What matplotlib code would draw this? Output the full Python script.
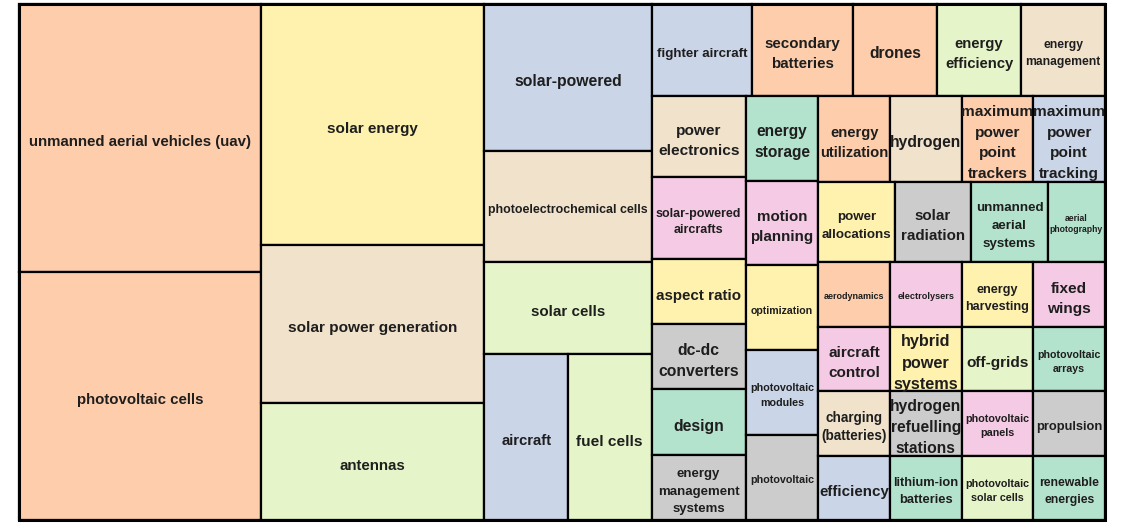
import matplotlib
matplotlib.use('Agg')
import matplotlib.pyplot as plt
from matplotlib.patches import Rectangle
from matplotlib.textpath import TextPath
from matplotlib.font_manager import FontProperties

# ---------------- data ----------------
keywords = [
    'unmanned aerial vehicles (uav)', 'photovoltaic cells', 'solar energy',
    'solar power generation', 'antennas', 'solar-powered',
    'photoelectrochemical cells', 'solar cells', 'aircraft', 'fuel cells',
    'fighter aircraft', 'secondary batteries', 'drones', 'energy efficiency',
    'energy management', 'power electronics', 'solar-powered aircrafts',
    'aspect ratio', 'dc-dc converters', 'design', 'energy management systems',
    'energy storage', 'motion planning', 'optimization', 'photovoltaic modules',
    'photovoltaic', 'energy utilization', 'hydrogen',
    'maximum power point trackers', 'maximum power point tracking',
    'power allocations', 'solar radiation', 'unmanned aerial systems',
    'aerial photography', 'aerodynamics', 'aircraft control',
    'charging (batteries)', 'efficiency', 'electrolysers',
    'hybrid power systems', 'hydrogen refuelling stations',
    'lithium-ion batteries', 'energy harvesting', 'off-grids',
    'photovoltaic panels', 'photovoltaic solar cells', 'fixed wings',
    'photovoltaic arrays', 'propulsion', 'renewable energies',
]
counts = [
    42, 39, 35,
    23, 17, 16,
    12, 10, 9, 9,
    6, 6, 5, 5,
    5, 5, 5,
    4, 4, 4, 4,
    4, 4, 4, 4,
    4, 4, 4,
    4, 4,
    4, 4, 4,
    3, 3, 3,
    3, 3, 3,
    3, 3,
    3, 3, 3,
    3, 3, 3,
    3, 3, 3,
]
# colour group index into the Pastel2 palette
# 0 mint, 1 peach, 2 blue, 3 pink, 4 light green, 5 yellow, 6 beige, 7 grey
colour_group = [
    1, 1, 5,
    6, 4, 2,
    6, 4, 2, 4,
    2, 1, 1, 4,
    6, 6, 3,
    5, 7, 0, 7,
    0, 3, 5, 2,
    7, 1, 6,
    1, 2,
    5, 7, 0,
    0, 1, 3,
    6, 2, 3,
    5, 7,
    0, 5, 4,
    3, 4, 3,
    0, 7, 0,
]

# ---------------- layout (nesting of slices) ----------------
tree = ('h', [
    ('v', ['unmanned aerial vehicles (uav)', 'photovoltaic cells']),
    ('v', ['solar energy', 'solar power generation', 'antennas']),
    ('v', ['solar-powered', 'photoelectrochemical cells', 'solar cells',
           ('h', ['aircraft', 'fuel cells'])]),
    ('v', [
        ('h', ['fighter aircraft', 'secondary batteries', 'drones',
               'energy efficiency', 'energy management']),
        ('h', [
            ('v', ['power electronics', 'solar-powered aircrafts', 'aspect ratio',
                   'dc-dc converters', 'design', 'energy management systems']),
            ('v', ['energy storage', 'motion planning', 'optimization',
                   'photovoltaic modules', 'photovoltaic']),
            ('v', [
                ('h', ['energy utilization', 'hydrogen',
                       'maximum power point trackers', 'maximum power point tracking']),
                ('h', ['power allocations', 'solar radiation',
                       'unmanned aerial systems', 'aerial photography']),
                ('h', [
                    ('v', ['aerodynamics', 'aircraft control',
                           'charging (batteries)', 'efficiency']),
                    ('v', ['electrolysers', 'hybrid power systems',
                           'hydrogen refuelling stations', 'lithium-ion batteries']),
                    ('v', ['energy harvesting', 'off-grids',
                           'photovoltaic panels', 'photovoltaic solar cells']),
                    ('v', ['fixed wings', 'photovoltaic arrays',
                           'propulsion', 'renewable energies']),
                ]),
            ]),
        ]),
    ]),
])

# display line breaks
display = {
    'secondary batteries': 'secondary\nbatteries',
    'energy efficiency': 'energy\nefficiency',
    'energy management': 'energy\nmanagement',
    'power electronics': 'power\nelectronics',
    'energy storage': 'energy\nstorage',
    'energy utilization': 'energy\nutilization',
    'maximum power point trackers': 'maximum\npower\npoint\ntrackers',
    'maximum power point tracking': 'maximum\npower\npoint\ntracking',
    'solar-powered aircrafts': 'solar-powered\naircrafts',
    'motion planning': 'motion\nplanning',
    'power allocations': 'power\nallocations',
    'solar radiation': 'solar\nradiation',
    'unmanned aerial systems': 'unmanned\naerial\nsystems',
    'aerial photography': 'aerial\nphotography',
    'energy harvesting': 'energy\nharvesting',
    'fixed wings': 'fixed\nwings',
    'dc-dc converters': 'dc-dc\nconverters',
    'photovoltaic modules': 'photovoltaic\nmodules',
    'aircraft control': 'aircraft\ncontrol',
    'hybrid power systems': 'hybrid\npower\nsystems',
    'photovoltaic arrays': 'photovoltaic\narrays',
    'charging (batteries)': 'charging\n(batteries)',
    'hydrogen refuelling stations': 'hydrogen\nrefuelling\nstations',
    'photovoltaic panels': 'photovoltaic\npanels',
    'energy management systems': 'energy\nmanagement\nsystems',
    'lithium-ion batteries': 'lithium-ion\nbatteries',
    'photovoltaic solar cells': 'photovoltaic\nsolar cells',
    'renewable energies': 'renewable\nenergies',
}
# width (px) of the widest label line
label_px = {
    'unmanned aerial vehicles (uav)': 221, 'photovoltaic cells': 125,
    'solar energy': 90, 'solar power generation': 168, 'antennas': 65,
    'solar-powered': 106, 'photoelectrochemical cells': 157, 'solar cells': 73,
    'aircraft': 50, 'fuel cells': 65, 'fighter aircraft': 90,
    'secondary batteries': 75, 'drones': 51, 'energy efficiency': 68,
    'energy management': 74, 'power electronics': 80, 'energy storage': 55,
    'energy utilization': 67, 'hydrogen': 69, 'maximum power point trackers': 70,
    'maximum power point tracking': 70, 'solar-powered aircrafts': 84,
    'motion planning': 61, 'power allocations': 69, 'solar radiation': 62,
    'unmanned aerial systems': 66, 'aerial photography': 52, 'aspect ratio': 84,
    'optimization': 61, 'aerodynamics': 60, 'electrolysers': 56,
    'energy harvesting': 62, 'fixed wings': 43, 'dc-dc converters': 79,
    'photovoltaic modules': 63, 'aircraft control': 51,
    'hybrid power systems': 64, 'off-grids': 61, 'photovoltaic arrays': 62,
    'design': 49, 'charging (batteries)': 64,
    'hydrogen refuelling stations': 69, 'photovoltaic panels': 63,
    'propulsion': 65, 'energy management systems': 81, 'photovoltaic': 63,
    'efficiency': 69, 'lithium-ion batteries': 64,
    'photovoltaic solar cells': 63, 'renewable energies': 59,
}

value_of = dict(zip(keywords, counts))
palette = plt.get_cmap('Pastel2').colors
colour_of = {k: palette[g] for k, g in zip(keywords, colour_group)}


def total(node):
    if isinstance(node, str):
        return value_of[node]
    return sum(total(c) for c in node[1])


def layout(node, x, y, w, h, out):
    if isinstance(node, str):
        out[node] = (x, y, w, h)
        return
    d, kids = node
    s = total(node)
    pos = 0.0
    for k in kids:
        f = total(k) / s
        if d == 'h':
            layout(k, x + pos * w, y, f * w, h, out)
        else:
            layout(k, x, y + pos * h, w, f * h, out)
        pos += f


DPI = 100
fig = plt.figure(figsize=(11.26, 5.32), dpi=DPI)
W, H = 1086, 516
ax = fig.add_axes([19 / 1126, 12 / 532, W / 1126, H / 532])
ax.set_xlim(0, W)
ax.set_ylim(H, 0)
ax.axis('off')

rects = {}
layout(tree, 0, 0, W, H, rects)

fp = FontProperties(family='Liberation Sans', weight='bold')
for k in keywords:
    x, y, w, h = rects[k]
    ax.add_patch(Rectangle((x, y), w, h, facecolor=colour_of[k],
                           edgecolor='black', lw=1.6, clip_on=False))
    lines = display.get(k, k).split('\n')
    widest = max(TextPath((0, 0), ln, size=1, prop=fp).get_extents().width
                 for ln in lines)
    fs = label_px[k] * 72 / DPI / widest
    em = fs * DPI / 72
    step = 1.33 * em
    n = len(lines)
    cx, cy = x + w / 2, y + h / 2
    for i, ln in enumerate(lines):
        by = cy + (i - (n - 1) / 2) * step + 0.55 * em
        ax.text(cx, by, ln, ha='center', va='baseline', fontsize=fs,
                fontproperties=fp, color='#1e1e1e')

ax.add_patch(Rectangle((0, 0), W, H, fill=False, edgecolor='black',
                       lw=2.2, clip_on=False))

fig.savefig('out.png', dpi=DPI, facecolor='white')
